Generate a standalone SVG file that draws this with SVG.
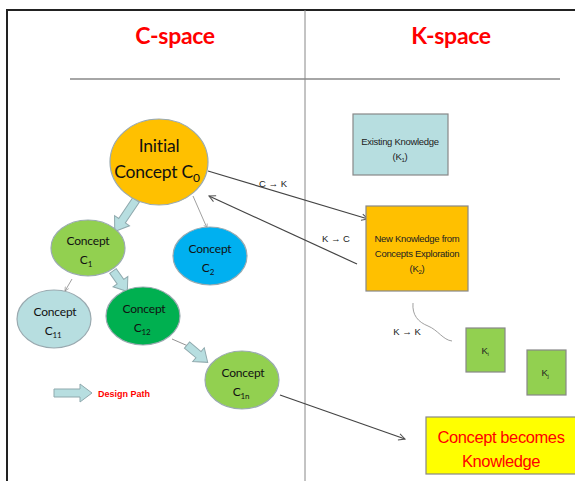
<svg xmlns="http://www.w3.org/2000/svg" width="575" height="481" viewBox="0 0 575 481">
<defs>
<marker id="oa" viewBox="0 0 10 10" refX="9" refY="5" markerWidth="8" markerHeight="8" orient="auto" markerUnits="userSpaceOnUse">
<path d="M1,1 L9,5 L1,9" fill="none" stroke="#555" stroke-width="1.3"/>
</marker>
<marker id="sa" viewBox="0 0 10 10" refX="9" refY="5" markerWidth="5" markerHeight="5" orient="auto" markerUnits="userSpaceOnUse">
<path d="M1,1 L9,5 L1,9" fill="none" stroke="#888" stroke-width="1.2"/>
</marker>
</defs>
<style>
.frame{stroke:#222;stroke-width:2;fill:none}
.rule{stroke:#888;stroke-width:1.5}
.title{font-family:Lato,"Liberation Sans",sans-serif;font-weight:bold;font-size:23px;fill:#ff0000;text-anchor:middle;letter-spacing:-0.3px}
.el{stroke:#9aaab0;stroke-width:1.2}
.ct{font-family:Lato,"Liberation Sans",sans-serif;font-size:12px;fill:#111;text-anchor:middle;letter-spacing:-0.2px}
.big{font-size:17.5px}
.kt{font-family:"Liberation Sans",Arial,sans-serif;font-size:9.5px;fill:#222;text-anchor:middle;letter-spacing:-0.3px}
.lbl{font-family:"Liberation Sans",Arial,sans-serif;font-size:9.5px;fill:#222;text-anchor:middle}
.box{stroke:#888;stroke-width:1.2}
.conn{stroke:#444;stroke-width:1.2;fill:none}
.thin{stroke:#888;stroke-width:0.8;fill:none}
.blk{fill:#b7dee0;stroke:#8fa9ad;stroke-width:1}
</style>
<rect width="575" height="481" fill="#ffffff"/>
<g id="frame">
<path class="frame" d="M7,481 V10 H575"/>
<line class="rule" x1="305" y1="10" x2="305" y2="481" style="stroke-width:1"/>
<line class="rule" x1="70" y1="79" x2="560" y2="79"/>
<text class="title" x="175" y="44">C-space</text>
<text class="title" x="451" y="44">K-space</text>
</g>
<g id="connectors">
<line class="conn" x1="208" y1="171" x2="368" y2="219" marker-end="url(#oa)"/>
<text class="lbl" x="273" y="187">C → K</text>
<line class="conn" x1="357" y1="264" x2="209" y2="196" marker-end="url(#oa)"/>
<text class="lbl" x="336" y="242">K → C</text>
<line class="conn" x1="280" y1="395" x2="405" y2="439" marker-end="url(#oa)"/>
<line class="thin" x1="193" y1="196" x2="207" y2="228" marker-end="url(#sa)"/>
<line class="thin" x1="72" y1="279" x2="65" y2="291" marker-end="url(#sa)"/>
<line class="thin" x1="172" y1="339" x2="188" y2="346" style="stroke:#777"/>
<path class="thin" d="M413,303 C412,315 418,322 428,326 C438,330 443,340 452,341"/>
<text class="lbl" x="407" y="335">K → K</text>
<g transform="translate(136,200) rotate(124)"><path class="blk" d="M0,-4 H25 V-9 L38,0 L25,9 V4 H0 Z"/></g>
<g transform="translate(113,271) rotate(55)"><path class="blk" d="M0,-4 H13 V-9 L25,0 L13,9 V4 H0 Z"/></g>
<g transform="translate(187,345) rotate(40)"><path class="blk" d="M0,-4 H15 V-9 L27,0 L15,9 V4 H0 Z"/></g>
</g>
<g id="legend">
<path class="blk" d="M54,389 H80 V384 L92,393 L80,402 V397 H54 Z"/>
<text x="98" y="397" style="font-family:'Liberation Sans',Arial,sans-serif;font-weight:bold;font-size:9px;fill:#ff0000">Design Path</text>
</g>
<g id="c0">
<ellipse class="el" cx="159" cy="162" rx="49" ry="43" fill="#ffc000"/>
<text class="ct big" x="159" y="152">Initial</text>
<text class="ct big" x="157" y="178">Concept C<tspan font-size="12" dy="4">0</tspan></text>
</g>
<g id="c1">
<ellipse class="el" cx="88" cy="248" rx="37" ry="28" fill="#92d050"/>
<text class="ct" x="88" y="245">Concept</text>
<text class="ct" x="86" y="264">C<tspan font-size="8" dy="3">1</tspan></text>
</g>
<g id="c2">
<ellipse class="el" cx="210" cy="256" rx="37" ry="29" fill="#00b0f0"/>
<text class="ct" x="210" y="253">Concept</text>
<text class="ct" x="208" y="272">C<tspan font-size="8" dy="3">2</tspan></text>
</g>
<g id="c11">
<ellipse class="el" cx="54" cy="319" rx="37" ry="29" fill="#b7dee0"/>
<text class="ct" x="55" y="316">Concept</text>
<text class="ct" x="53" y="335">C<tspan font-size="8" dy="3">11</tspan></text>
</g>
<g id="c12">
<ellipse class="el" cx="143" cy="316" rx="37" ry="29" fill="#00b050"/>
<text class="ct" x="144" y="313">Concept</text>
<text class="ct" x="142" y="332">C<tspan font-size="8" dy="3">12</tspan></text>
</g>
<g id="c1n">
<ellipse class="el" cx="242" cy="380" rx="37" ry="29" fill="#92d050"/>
<text class="ct" x="243" y="377">Concept</text>
<text class="ct" x="241" y="396">C<tspan font-size="8" dy="3">1n</tspan></text>
</g>
<g id="k1">
<rect class="box" x="353" y="114" width="95" height="61" fill="#b7dee0"/>
<text class="kt" x="400" y="145">Existing Knowledge</text>
<text class="kt" x="400" y="160">(K<tspan font-size="6" dy="2">1</tspan><tspan dy="-2">)</tspan></text>
</g>
<g id="k2">
<rect class="box" x="366" y="206" width="102" height="85" fill="#ffc000"/>
<text class="kt" x="417" y="242">New Knowledge from</text>
<text class="kt" x="417" y="257">Concepts Exploration</text>
<text class="kt" x="417" y="272">(K<tspan font-size="6" dy="2">2</tspan><tspan dy="-2">)</tspan></text>
</g>
<g id="ki">
<rect class="box" x="466" y="328" width="39" height="44" fill="#92d050"/>
<text class="kt" x="485" y="354">K<tspan font-size="6" dy="2">i</tspan></text>
</g>
<g id="kj">
<rect class="box" x="527" y="350" width="39" height="45" fill="#92d050"/>
<text class="kt" x="545" y="376">K<tspan font-size="6" dy="2">j</tspan></text>
</g>
<g id="kc">
<rect class="box" x="426" y="417" width="152" height="57" fill="#ffff00"/>
<text x="501" y="443" style="font-family:'Liberation Sans',Arial,sans-serif;font-size:16.5px;fill:#ff0000;text-anchor:middle;letter-spacing:-0.4px">Concept becomes</text>
<text x="501" y="467" style="font-family:'Liberation Sans',Arial,sans-serif;font-size:16.5px;fill:#ff0000;text-anchor:middle;letter-spacing:-0.4px">Knowledge</text>
</g>
</svg>
